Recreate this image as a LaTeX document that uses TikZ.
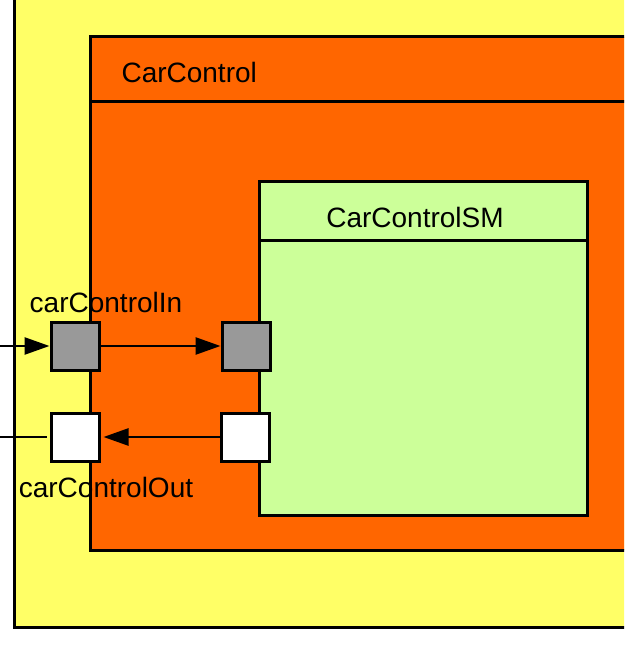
\documentclass[tikz,border=0pt]{standalone}
\usepackage{fontspec}
\setmainfont{Liberation Sans}
\usetikzlibrary{arrows.meta}
\definecolor{capsyellow}{HTML}{FFFF66}
\definecolor{capsorange}{HTML}{FF6600}
\definecolor{capsgreen}{HTML}{CCFF99}
\definecolor{capsgray}{HTML}{999999}
\tikzstyle{mybox}=[draw=black,line width=3pt]
\tikzstyle{myport}=[draw=black,line width=3pt,minimum size=48pt,inner sep=0pt]
\tikzstyle{myarrow}=[line width=2.6pt,-{Triangle[length=25pt,width=17pt]}]
\tikzstyle{myline}=[line width=2.6pt]

\begin{document}
\begin{tikzpicture}[x=1pt,y=-1pt,font=\fontsize{28}{32}\selectfont]
		\useasboundingbox (0,0) rectangle (624,647);
		\clip (0,0) rectangle (624,647);
		\fill[white] (0,0) rectangle (624,647);

		\draw[mybox,fill=capsyellow] (14,-10) rectangle (650,627);
		\draw[mybox,fill=capsorange] (90,37) rectangle (650,550);
		\draw[mybox] (90,102) -- (650,102);
		\node[anchor=west] (carcontrol) at (118,72) {CarControl};

		\draw[mybox,fill=capsgreen] (259,181) rectangle (587,515);
		\draw[mybox] (259,240) -- (587,240);
		\node (carcontrolsm) at (415,217) {CarControlSM};

		\node[myport,fill=capsgray] (inouter) at (75,346) {};
		\node[myport,fill=capsgray] (ininner) at (246,346) {};
		\node[myport,fill=white] (outouter) at (75,437) {};
		\node[myport,fill=white] (outinner) at (245,437) {};

		\node (inlabel) at (106,302) {carControlIn};
		\node (outlabel) at (106,487) {carControlOut};

		\coordinate (inleft) at (0,346);
		\coordinate (outleft) at (0,437);
		\draw[myarrow] (inleft) -- (inouter.west);
		\draw[myarrow] (inouter.east) -- (ininner.west);
		\draw[myarrow] (outinner.west) -- ([xshift=3pt]outouter.east);
		\draw[myline] ([xshift=-3pt]outouter.west) -- (outleft);
\end{tikzpicture}
\end{document}
